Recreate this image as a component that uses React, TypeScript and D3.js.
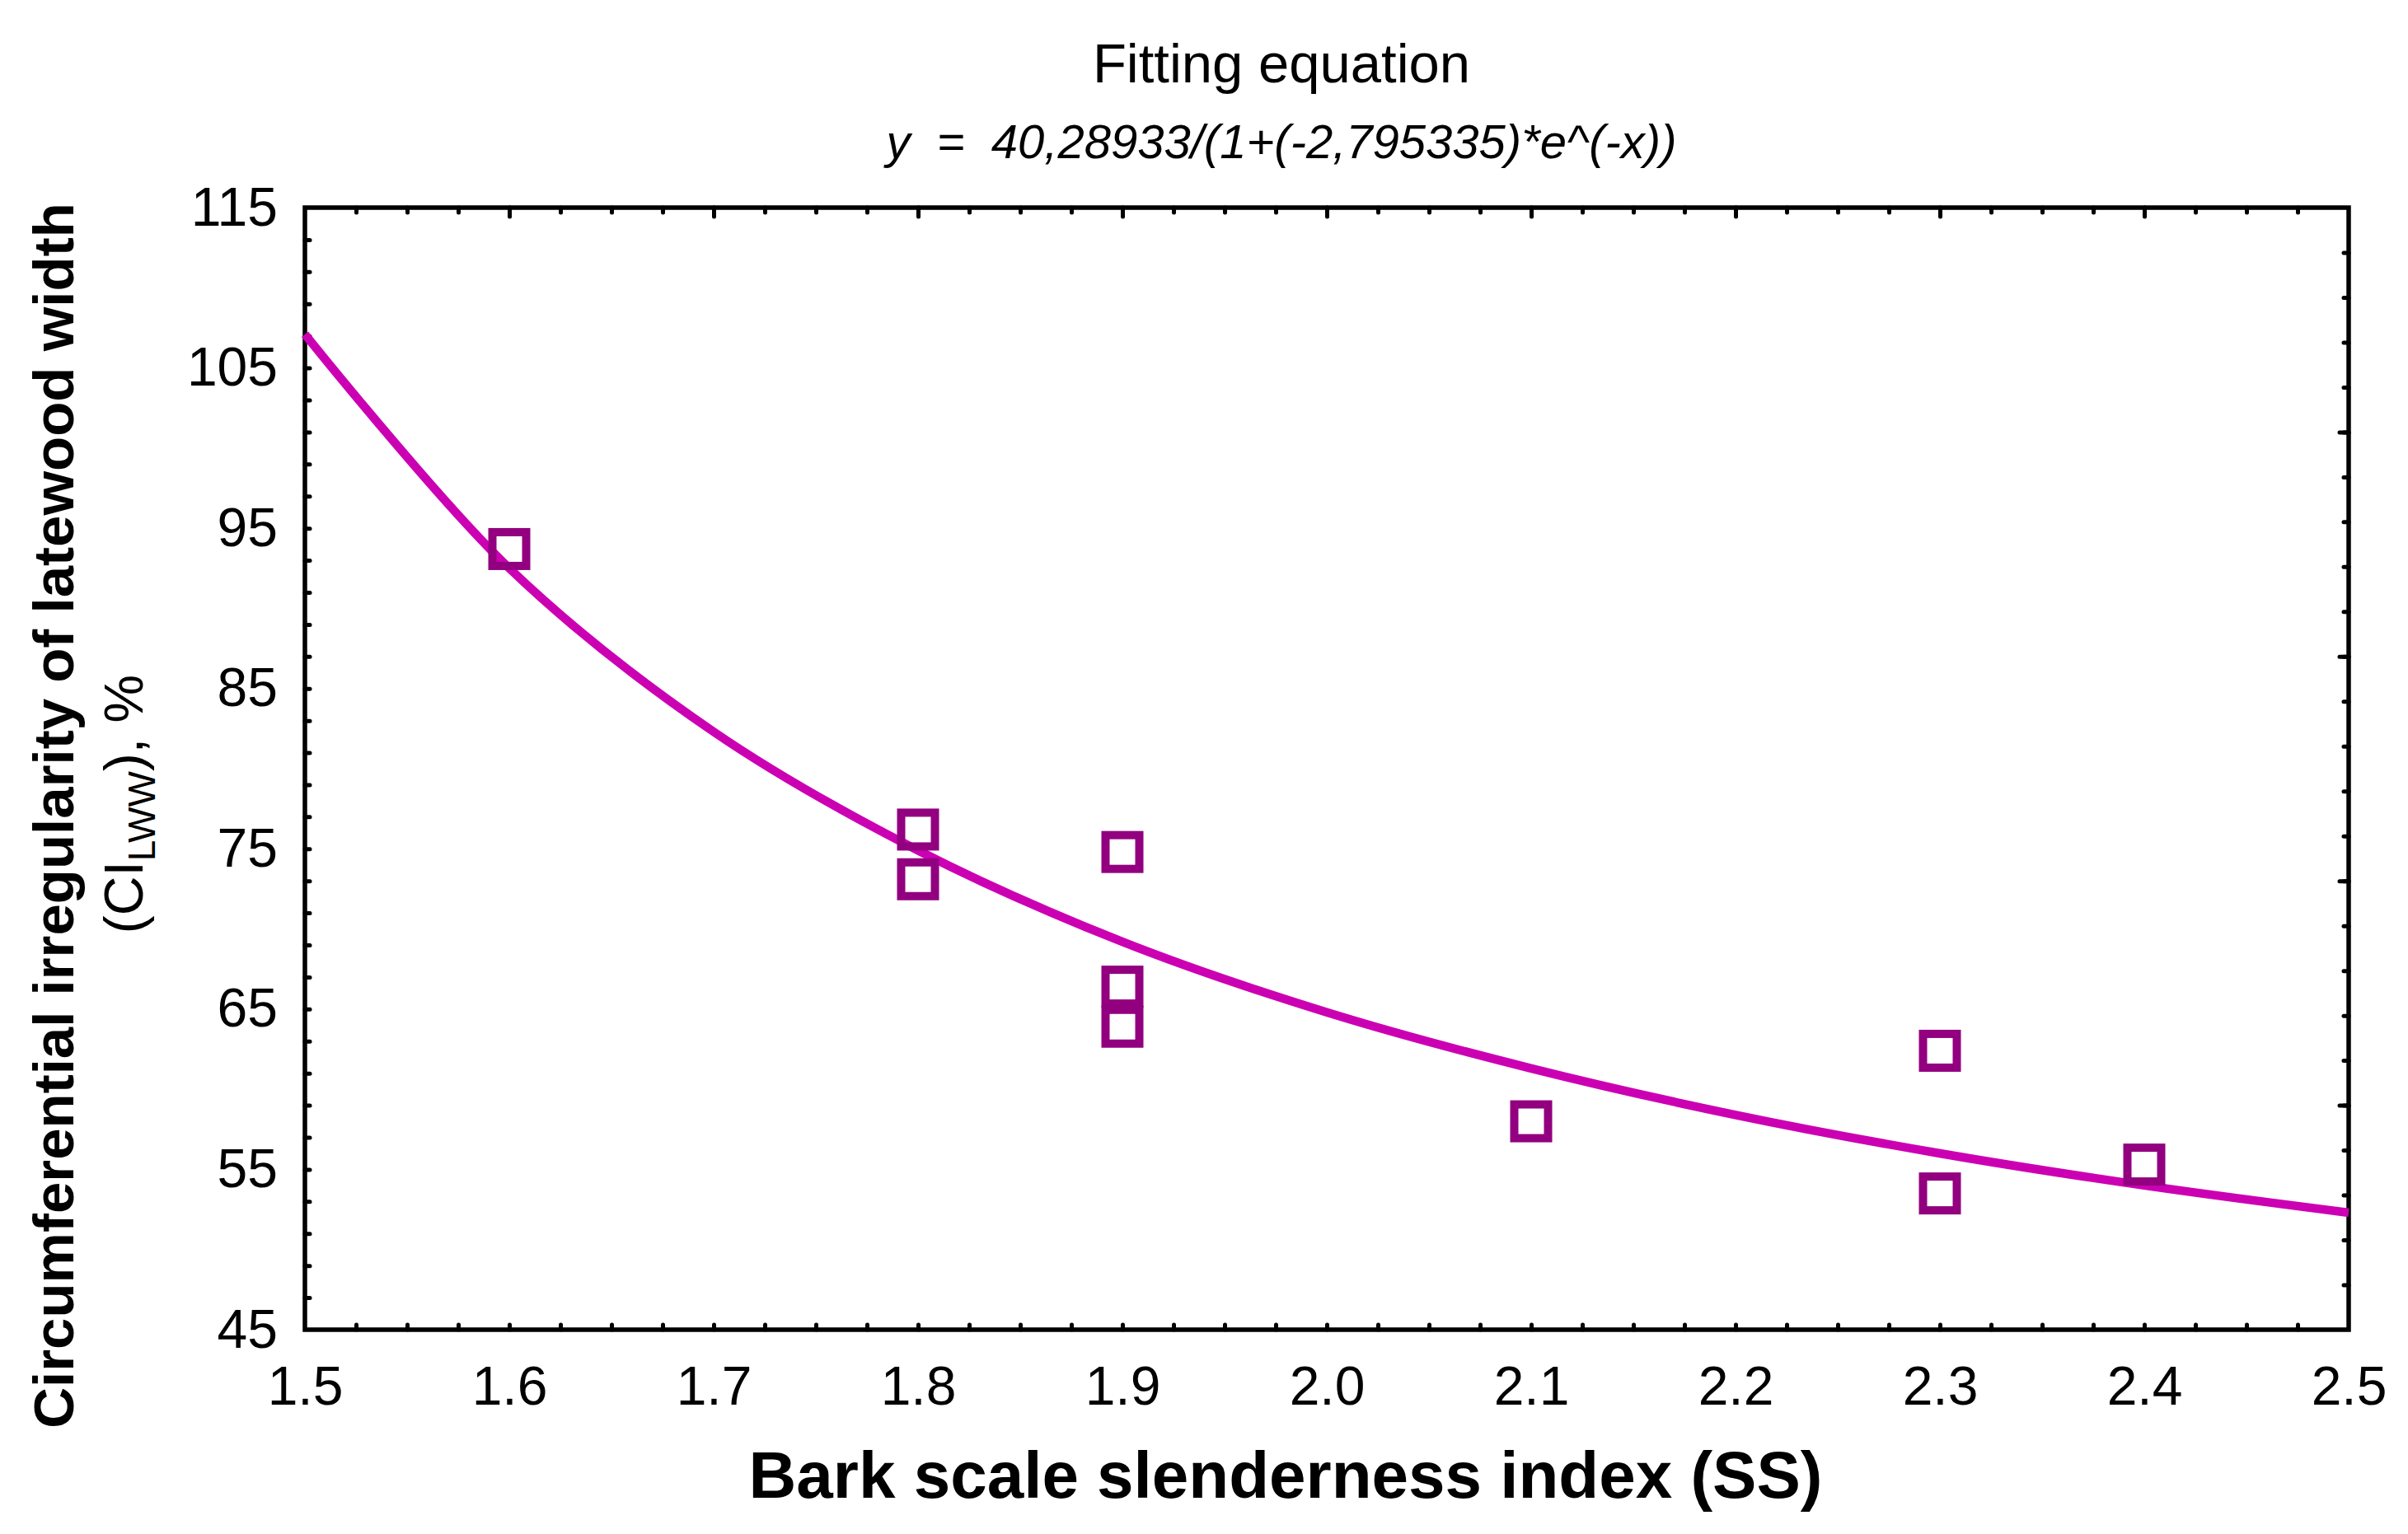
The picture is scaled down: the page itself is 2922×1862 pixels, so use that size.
import React, { useEffect, useRef } from 'react';
import * as d3 from 'd3';

const pointSS = [1.6, 1.8, 1.8, 1.9, 1.9, 1.9, 2.1, 2.3, 2.3, 2.4];
const pointCI = [93.7, 76.2, 73.1, 74.8, 66.4, 63.9, 58.0, 62.4, 53.5, 55.3];

// fitted curve, read at every 0.1 step along the x axis
const fitSS = [1.5, 1.6, 1.7, 1.8, 1.9, 2.0, 2.1, 2.2, 2.3, 2.4, 2.5];
const fitCI = [107.1, 92.5, 82.3, 74.9, 69.2, 64.8, 61.3, 58.4, 56.0, 54.0, 52.3];

// tick labels
const xTickLabels = [1.5, 1.6, 1.7, 1.8, 1.9, 2.0, 2.1, 2.2, 2.3, 2.4, 2.5];
const yTickLabels = [45, 55, 65, 75, 85, 95, 105, 115];

const chartTitle = 'Fitting equation';
const equationText = 'y  =  40,28933/(1+(-2,795335)*e^(-x))';
const xTitle = 'Bark scale slenderness index (SS)';
const yTitle = 'Circumferential irregularity of latewood width';

const W = 2922;
const H = 1862;
const FONT = '"Liberation Sans", Arial, sans-serif';

const App: React.FC = () => {
  const svgRef = useRef<SVGSVGElement>(null);

  useEffect(() => {
    if (!svgRef.current) return;
    const svg = d3.select(svgRef.current);
    svg.selectAll('*').remove();

    const left = 370, right = 2850, top = 252, bottom = 1614;

    const x = d3.scaleLinear().domain([1.5, 2.5]).range([left, right]);
    const y = d3.scaleLinear().domain([45, 115]).range([bottom, top]);
    // the right frame axis carries its own unlabeled subdivision
    const yRight = d3.scaleLinear().domain([0, 25]).range([bottom, top]);

    const xMinor = d3.range(1, 40).map(i => 1.5 + i * 0.025);
    const xMajorInner = d3.range(1, 10).map(i => 1.5 + i * 0.1);
    const yMinor = d3.range(1, 35).map(i => 45 + i * 2);
    const rMinor = d3.range(1, 25);
    const rMajor = [5, 10, 15, 20];

    const styleTicks = (g: d3.Selection<SVGGElement, unknown, null, undefined>) => {
      g.select('.domain').remove();
      g.selectAll('.tick line')
        .attr('stroke', '#000')
        .attr('stroke-width', 5)
        .attr('stroke-linecap', 'round');
    };

    // bottom ticks
    svg.append('g')
      .attr('transform', `translate(0,${bottom})`)
      .call(d3.axisBottom(x).tickValues(xMinor).tickSize(-6).tickFormat(() => ''))
      .call(styleTicks);

    // top ticks
    svg.append('g')
      .attr('transform', `translate(0,${top})`)
      .call(d3.axisTop(x).tickValues(xMinor).tickSize(-6).tickFormat(() => ''))
      .call(styleTicks);
    svg.append('g')
      .attr('transform', `translate(0,${top})`)
      .call(d3.axisTop(x).tickValues(xMajorInner).tickSize(-11).tickFormat(() => ''))
      .call(styleTicks);

    // left ticks
    svg.append('g')
      .attr('transform', `translate(${left},0)`)
      .call(d3.axisLeft(y).tickValues(yMinor).tickSize(-6).tickFormat(() => ''))
      .call(styleTicks);

    // right ticks
    svg.append('g')
      .attr('transform', `translate(${right},0)`)
      .call(d3.axisRight(yRight).tickValues(rMinor).tickSize(-6).tickFormat(() => ''))
      .call(styleTicks);
    svg.append('g')
      .attr('transform', `translate(${right},0)`)
      .call(d3.axisRight(yRight).tickValues(rMajor).tickSize(-11).tickFormat(() => ''))
      .call(styleTicks);

    // frame
    svg.append('rect')
      .attr('x', left)
      .attr('y', top)
      .attr('width', right - left)
      .attr('height', bottom - top)
      .attr('fill', 'none')
      .attr('stroke', '#000')
      .attr('stroke-width', 5.5);

    // tick labels
    const xLab = svg.append('g')
      .attr('transform', `translate(0,${bottom})`)
      .call(d3.axisBottom(x).tickValues(xTickLabels).tickSize(0).tickPadding(44).tickFormat(d3.format('.1f')));
    xLab.select('.domain').remove();
    xLab.selectAll('text')
      .attr('font-family', FONT)
      .attr('font-size', 66)
      .attr('fill', '#000');

    const yLab = svg.append('g')
      .attr('transform', `translate(${left},0)`)
      .call(d3.axisLeft(y).tickValues(yTickLabels).tickSize(0).tickPadding(33).tickFormat(d3.format('d')));
    yLab.select('.domain').remove();
    yLab.selectAll('text')
      .attr('font-family', FONT)
      .attr('font-size', 66)
      .attr('fill', '#000');

    // fitted curve
    const line = d3.line<number>()
      .x((d, i) => x(fitSS[i]))
      .y(d => y(d))
      .curve(d3.curveCatmullRom.alpha(0.5));

    svg.append('path')
      .datum(fitCI)
      .attr('d', line)
      .attr('fill', 'none')
      .attr('stroke', '#CC00B3')
      .attr('stroke-width', 10.5);

    // points as open squares
    const side = 41;
    svg.selectAll('.pt')
      .data(pointCI)
      .enter()
      .append('rect')
      .attr('class', 'pt')
      .attr('x', (d, i) => x(pointSS[i]) - side / 2)
      .attr('y', d => y(d) - side / 2)
      .attr('width', side)
      .attr('height', side)
      .attr('fill', 'none')
      .attr('stroke', '#920080')
      .attr('stroke-width', 10);

    // titles
    svg.append('text')
      .attr('x', 1555)
      .attr('y', 100)
      .attr('text-anchor', 'middle')
      .attr('font-family', FONT)
      .attr('font-size', 67)
      .text(chartTitle);

    svg.append('text')
      .attr('x', 1555)
      .attr('y', 192)
      .attr('text-anchor', 'middle')
      .attr('font-family', FONT)
      .attr('font-style', 'italic')
      .attr('font-size', 58)
      .style('white-space', 'pre')
      .text(equationText);

    svg.append('text')
      .attr('x', 1560)
      .attr('y', 1818)
      .attr('text-anchor', 'middle')
      .attr('font-family', FONT)
      .attr('font-weight', 'bold')
      .attr('font-size', 80)
      .text(xTitle);

    svg.append('text')
      .attr('transform', 'translate(89,990) rotate(-90)')
      .attr('text-anchor', 'middle')
      .attr('font-family', FONT)
      .attr('font-weight', 'bold')
      .attr('font-size', 69)
      .text(yTitle);

    const sub = svg.append('text')
      .attr('transform', 'translate(173,976) rotate(-90)')
      .attr('text-anchor', 'middle')
      .attr('font-family', FONT)
      .attr('font-size', 66)
      .style('white-space', 'pre');
    sub.append('tspan').text('(CI');
    sub.append('tspan').attr('font-size', 46).attr('dy', 15).text('LWW');
    sub.append('tspan').attr('dy', -15).text('), %');
  }, []);

  return (
    <svg
      ref={svgRef}
      width={W}
      height={H}
      viewBox={`0 0 ${W} ${H}`}
      style={{ position: 'absolute', left: 0, top: 0, background: '#fff' }}
    />
  );
};

export default App;
